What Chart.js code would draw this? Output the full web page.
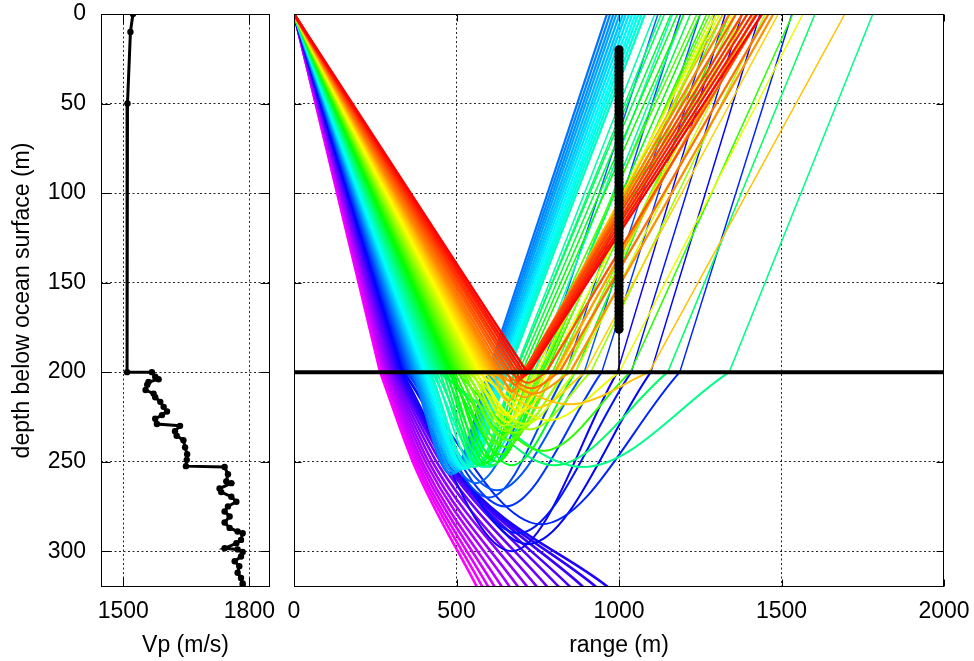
<!DOCTYPE html>
<html><head><meta charset="utf-8">
<script src="https://cdn.jsdelivr.net/npm/chart.js@4/dist/chart.umd.min.js"></script>
<style>
html,body{margin:0;padding:0;background:#fff;width:974px;height:661px;overflow:hidden}
canvas{position:absolute;top:0}
#c1{left:0}
#c2{left:280px}
</style></head>
<body>
<canvas id="c1" width="285" height="661"></canvas>
<canvas id="c2" width="694" height="661"></canvas>
<script>
// ---------- data ----------
const depthTicks = [0, 50, 100, 150, 200, 250, 300];
const rangeTicks = [0, 500, 1000, 1500, 2000];
const vpTicks = [1500, 1800];

// velocity profile (depth m, Vp m/s)
const vpDepth = [0, 10, 50, 200, 200, 202.6, 204, 205.5, 207, 210, 212, 214, 216.6, 219.4, 222, 224, 226, 229, 230, 233, 235.5, 238, 242, 245.8, 249, 252.5, 253, 257, 261, 262, 265, 267, 269.6, 272.4, 275, 277.8, 280.6, 284, 287, 289, 290, 293.7, 295.6, 298.4, 299, 300.4, 303, 305.6, 308.4, 312, 315, 318, 319.5];
const vpValue = [1523, 1517, 1510, 1509, 1568, 1576, 1584, 1560, 1557, 1553, 1572, 1576, 1588, 1596, 1604, 1592, 1576, 1580, 1635, 1623, 1627, 1643, 1647, 1652, 1651, 1649, 1741, 1749, 1745, 1757, 1729, 1733, 1757, 1769, 1749, 1741, 1753, 1741, 1753, 1772, 1784, 1780, 1769, 1741, 1772, 1784, 1780, 1765, 1776, 1772, 1780, 1784, 1784];

const seafloorDepth = 200;
const kinkDepth = 252;
const receiverRange = 1000;
const receiverDepths = [20, 22, 24, 26, 28, 30, 32, 34, 36, 38, 40, 42, 44, 46, 48, 50, 52, 54, 56, 58, 60, 62, 64, 66, 68, 70, 72, 74, 76, 78, 80, 82, 84, 86, 88, 90, 92, 94, 96, 98, 100, 102, 104, 106, 108, 110, 112, 114, 116, 118, 120, 122, 124, 126, 128, 130, 132, 134, 136, 138, 140, 142, 144, 146, 148, 150, 152, 154, 156, 158, 160, 162, 164, 166, 168, 170, 172, 174, 176];

// rays, ordered from shallowest take-off (red) to steepest (magenta)
// range where the ray reaches the seafloor going down
const rayDownX = [717, 706, 696, 685, 675, 664, 654, 643, 633, 625, 618, 610, 602, 594, 586, 578, 571, 565, 560, 554, 549, 543, 537, 532, 526, 521, 516, 510, 505, 500, 494, 489, 484, 479, 474, 469, 464, 459, 453, 448, 442, 437, 432, 426, 421, 416, 410, 405, 400, 396, 391, 387, 382, 378, 374, 369, 365, 361, 357, 352, 348, 345, 340, 336, 332, 327, 323, 318, 314, 310, 305, 300, 296, 292, 287, 283, 278, 274, 269, 265];
// deepest point of the ray (320 = leaves the model bottom)
const rayTurnDepth = [201, 202, 203, 204, 205, 206, 207, 209, 211, 212, 214, 216, 218, 220, 222, 224, 225, 227, 228, 229, 230, 231, 232, 233, 234, 236, 238, 240, 242, 244, 246, 248, 250, 251, 252, 252, 252, 252, 252, 252, 253, 253, 253, 253, 253, 253, 254, 254, 254, 254, 254, 255, 255, 256, 256, 257, 257, 262, 266, 270, 275, 285, 290, 296, 300, 320, 320, 320, 320, 320, 320, 320, 320, 320, 320, 320, 320, 320, 320, 320];
// range at the deepest point (or where the ray leaves the bottom)
const rayTurnX = [720, 712, 705, 697, 690, 720, 680, 730, 670, 737, 710, 660, 848, 745, 697, 650, 675, 783, 655, 710, 645, 690, 725, 650, 680, 640, 660, 620, 650, 767, 635, 600, 625, 590, 670, 580, 610, 570, 801, 565, 890, 600, 555, 582, 540, 535, 530, 525, 520, 515, 510, 506, 501, 496, 492, 487, 482, 560, 625, 600, 650, 760, 690, 720, 670, 966, 930, 890, 850, 815, 780, 748, 718, 690, 664, 640, 618, 598, 580, 563];
// range where the ray crosses the seafloor going up (null = no return)
const rayUpX = [723, 719, 714, 710, 705, 776, 706, 817, 707, 850, 802, 710, 1093, 896, 809, 722, 779, 1001, 750, 866, 741, 837, 913, 768, 834, 759, 804, 730, 795, 1035, 776, 711, 766, 701, 866, 691, 756, 681, 1150, 682, 1339, 763, 678, 739, 659, 654, 650, 646, 641, 635, 630, 625, 620, 614, 609, 604, 598, 759, 893, 838, 947, 1187, 1038, 1098, 995, null, null, null, null, null, null, null, null, null, null, null, null, null, null, null];
// range where the ray reaches the ocean surface
const raySurfX = [1440, 1425, 1410, 1395, 1380, 1440, 1360, 1460, 1340, 1475, 1420, 1320, 1695, 1490, 1395, 1300, 1350, 1566, 1310, 1420, 1290, 1380, 1450, 1300, 1360, 1280, 1320, 1240, 1300, 1535, 1270, 1200, 1250, 1180, 1340, 1160, 1220, 1140, 1603, 1130, 1781, 1200, 1110, 1165, 1080, 1070, 1060, 1051, 1041, 1031, 1021, 1012, 1002, 992, 983, 973, 963, 1120, 1250, 1190, 1295, 1532, 1378, 1434, 1327, null, null, null, null, null, null, null, null, null, null, null, null, null, null, null];
// range at the 252 m velocity step for rays leaving through the bottom
const rayKinkX = [null, null, null, null, null, null, null, null, null, null, null, null, null, null, null, null, null, null, null, null, null, null, null, null, null, null, null, null, null, null, null, null, null, null, null, null, null, null, null, null, null, null, null, null, null, null, null, null, null, null, null, null, null, null, null, null, null, null, null, null, null, null, null, null, null, 485, 482, 480, 476, 470, 458, 445, 432, 420, 410, 400, 392, 384, 377, 370];

// ---------- helpers ----------
Chart.defaults.font.family = "'Liberation Sans', Arial, sans-serif";
Chart.defaults.font.size = 23;
Chart.defaults.color = '#000';

const framePlugin = {
  id: 'frame',
  afterDraw(chart, args, opts) {
    const {ctx, chartArea: a, scales} = chart;
    ctx.save();
    ctx.strokeStyle = '#000';
    ctx.lineWidth = 1;
    const L = Math.round(a.left) + 0.5, R = Math.round(a.right) - 0.5;
    const T = Math.round(a.top) + 0.5, B = Math.round(a.bottom) - 0.5;
    ctx.strokeRect(L, T, R - L, B - T);
    ctx.beginPath();
    opts.xTicks.forEach(v => {
      const p = Math.round(scales.x.getPixelForValue(v)) + 0.5;
      ctx.moveTo(p, B); ctx.lineTo(p, B - opts.len);
      ctx.moveTo(p, T); ctx.lineTo(p, T + opts.len);
    });
    opts.yTicks.forEach(v => {
      const p = Math.round(scales.y.getPixelForValue(v)) + 0.5;
      ctx.moveTo(L, p); ctx.lineTo(L + opts.len, p);
      ctx.moveTo(R, p); ctx.lineTo(R - opts.len, p);
    });
    ctx.stroke();
    ctx.restore();
  }
};

function gridColor(edges) {
  return c => (c.tick && edges.includes(c.tick.value)) ? 'rgba(0,0,0,0)' : 'rgba(0,0,0,0.85)';
}
function noPad(s) { s.paddingLeft = 0; s.paddingRight = 0; s.paddingTop = 0; s.paddingBottom = 0; }

// ---------- left chart: Vp profile ----------
new Chart(document.getElementById('c1'), {
  type: 'line',
  data: {
    datasets: [{
      data: vpDepth.map((d, i) => ({x: vpValue[i], y: d})),
      borderColor: '#000', backgroundColor: '#000',
      borderWidth: 3, pointRadius: 3.2, pointBorderWidth: 0,
      tension: 0, fill: false
    }]
  },
  options: {
    responsive: false, animation: false,
    layout: {autoPadding: false, padding: {top: 14, right: 15, left: 0, bottom: 0}},
    plugins: {legend: {display: false}, tooltip: {enabled: false},
      frame: {xTicks: vpTicks, yTicks: depthTicks, len: 9}},
    scales: {
      x: {
        type: 'linear', min: 1447, max: 1849,
        afterBuildTicks: s => { s.ticks = vpTicks.map(v => ({value: v})); },
        afterFit: s => { s.height = 74; noPad(s); },
        ticks: {padding: 11, callback: v => String(v)},
        grid: {drawTicks: false, color: gridColor([]), lineWidth: 1},
        border: {display: false, dash: [2, 2.5]},
        title: {display: true, text: 'Vp (m/s)', padding: {top: 0, bottom: 2}}
      },
      y: {
        type: 'linear', min: 0, max: 320, reverse: true,
        afterBuildTicks: s => { s.ticks = depthTicks.map(v => ({value: v})); },
        afterFit: s => { s.width = 101; noPad(s); },
        ticks: {padding: 15, callback: v => String(v)},
        grid: {drawTicks: false, color: gridColor([0]), lineWidth: 1},
        border: {display: false, dash: [2, 2.5]},
        title: {display: true, text: 'depth below ocean surface (m)', padding: {top: 9, bottom: 0}}
      }
    }
  },
  plugins: [framePlugin]
});

// ---------- right chart: ray paths ----------
const datasets = [];
datasets.push({
  data: [{x: 0, y: seafloorDepth}, {x: 2000, y: seafloorDepth}],
  borderColor: '#000', borderWidth: 4, pointRadius: 0
});
datasets.push({
  data: receiverDepths.map(d => ({x: receiverRange, y: d})),
  showLine: false, pointRadius: 4.6, pointBorderWidth: 0,
  backgroundColor: '#000', borderColor: '#000'
});
datasets.push({
  data: [{x: receiverRange, y: receiverDepths[0]}, {x: receiverRange, y: seafloorDepth}],
  borderColor: '#000', borderWidth: 1.5, pointRadius: 0
});

const nRays = rayDownX.length;
rayDownX.forEach((xd, i) => {
  const col = `hsl(${(300 * i / (nRays - 1)).toFixed(1)},100%,50%)`;
  const base = {borderColor: col, pointRadius: 0, fill: false, borderJoinStyle: 'round', borderCapStyle: 'round'};
  datasets.push({...base, borderWidth: 2.6,
    data: [{x: 0, y: 0}, {x: xd, y: seafloorDepth}]});
  if (rayUpX[i] === null) {
    datasets.push({...base, borderWidth: 2.6, cubicInterpolationMode: 'monotone',
      data: [{x: xd, y: seafloorDepth}, {x: rayKinkX[i], y: kinkDepth}, {x: rayTurnX[i], y: rayTurnDepth[i]}]});
  } else {
    datasets.push({...base, borderWidth: 2, cubicInterpolationMode: 'monotone',
      data: [{x: xd, y: seafloorDepth}, {x: rayTurnX[i], y: rayTurnDepth[i]}, {x: rayUpX[i], y: seafloorDepth}]});
    const upWidth = (raySurfX[i] < 1090 || i < 11) ? 2.3 : 1.5;
    datasets.push({...base, borderWidth: upWidth,
      data: [{x: rayUpX[i], y: seafloorDepth}, {x: raySurfX[i], y: 0}]});
  }
});

new Chart(document.getElementById('c2'), {
  type: 'line',
  data: {datasets},
  options: {
    responsive: false, animation: false,
    layout: {autoPadding: false, padding: {top: 14, right: 30, left: 14, bottom: 0}},
    plugins: {legend: {display: false}, tooltip: {enabled: false},
      frame: {xTicks: rangeTicks, yTicks: depthTicks, len: 7}},
    scales: {
      x: {
        type: 'linear', min: 0, max: 2000,
        afterBuildTicks: s => { s.ticks = rangeTicks.map(v => ({value: v})); },
        afterFit: s => { s.height = 74; noPad(s); },
        ticks: {padding: 11, callback: v => String(v)},
        grid: {drawTicks: false, color: gridColor([0, 2000]), lineWidth: 1},
        border: {display: false, dash: [2, 2.5]},
        title: {display: true, text: 'range (m)', padding: {top: 0, bottom: 2}}
      },
      y: {
        type: 'linear', min: 0, max: 320, reverse: true,
        afterBuildTicks: s => { s.ticks = depthTicks.map(v => ({value: v})); },
        afterFit: s => { s.width = 0; noPad(s); },
        ticks: {display: false},
        grid: {drawTicks: false, color: gridColor([0]), lineWidth: 1},
        border: {display: false, dash: [2, 2.5]}
      }
    }
  },
  plugins: [framePlugin]
});
</script>
</body></html>
